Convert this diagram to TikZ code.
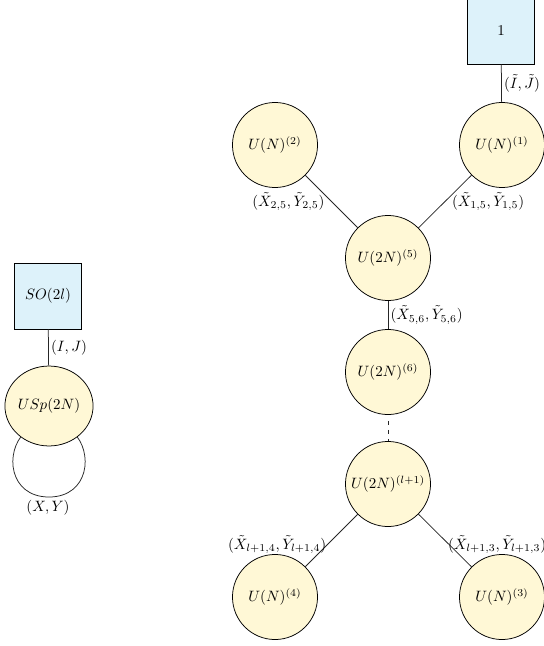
\documentclass[tikz,border=0pt]{standalone}
\usetikzlibrary{shapes.geometric,backgrounds}
\definecolor{gaugefill}{RGB}{255,248,214}
\definecolor{flavfill}{RGB}{221,242,250}
\tikzset{
  gauge/.style={circle,draw=black,fill=gaugefill,line width=0.5pt,minimum size=56.7pt,inner sep=0pt},
  gaugeell/.style={ellipse,draw=black,fill=gaugefill,line width=0.5pt,minimum width=58.7pt,minimum height=53.3pt,inner sep=0pt},
  flav/.style={rectangle,draw=black,fill=flavfill,line width=0.5pt,minimum width=44.7pt,minimum height=44pt,inner sep=0pt},
  conn/.style={draw=black!85,line width=0.5pt},
  lab/.style={inner sep=1.5pt}
}
\begin{document}
\begin{tikzpicture}[x=0.6667pt,y=-0.6667pt]
\useasboundingbox (0,0) rectangle (544,646);
% left quiver
\node[flav] (so) at (48,296) {$SO(2l)$};
\node[gaugeell] (usp) at (49,406) {$USp(2N)$};
\draw[conn] (so) -- node[lab,right] {$(I,J)$} (usp);
\begin{pgfonlayer}{background}
\draw[conn] ([shift={(-24,26)}]usp.center) .. controls ([shift={(-45,46)}]usp.center) and ([shift={(-40,91)}]usp.center) .. ([shift={(0,91)}]usp.center)
  .. controls ([shift={(40,91)}]usp.center) and ([shift={(45,46)}]usp.center) .. ([shift={(24,26)}]usp.center);
\end{pgfonlayer}
\node[lab] (xy) at (48,508) {$(X,Y)$};
% right quiver
\node[flav] (one) at (501,31) {$1$};
\node[gauge] (n1) at (502,145) {$U(N)^{(1)}$};
\node[gauge] (n2) at (275,145) {$U(N)^{(2)}$};
\node[gauge] (n5) at (388,258) {$U(2N)^{(5)}$};
\node[gauge] (n6) at (388,372) {$U(2N)^{(6)}$};
\node[gauge] (nl) at (388,484) {$U(2N)^{(l+1)}$};
\node[gauge] (n4) at (275,597) {$U(N)^{(4)}$};
\node[gauge] (n3) at (502,597) {$U(N)^{(3)}$};
\draw[conn] (one) -- node[lab,right] {$(\tilde I,\tilde J)$} (n1);
\draw[conn] (n2) -- node[lab,pos=0.5,anchor=east,xshift=-3pt] {$(\tilde X_{2,5},\tilde Y_{2,5})$} (n5);
\draw[conn] (n1) -- node[lab,pos=0.5,anchor=west,xshift=3pt] {$(\tilde X_{1,5},\tilde Y_{1,5})$} (n5);
\draw[conn] (n5) -- node[lab,right] {$(\tilde X_{5,6},\tilde Y_{5,6})$} (n6);
\draw[conn,dashed,shorten <=4pt] (n6) -- (nl);
\draw[conn] (nl) -- node[lab,pos=0.58,anchor=east,xshift=1pt] {$(\tilde X_{l+1,4},\tilde Y_{l+1,4})$} (n4);
\draw[conn] (nl) -- node[lab,pos=0.58,anchor=west,xshift=-2.5pt] {$(\tilde X_{l+1,3},\tilde Y_{l+1,3})$} (n3);
\end{tikzpicture}
\end{document}
